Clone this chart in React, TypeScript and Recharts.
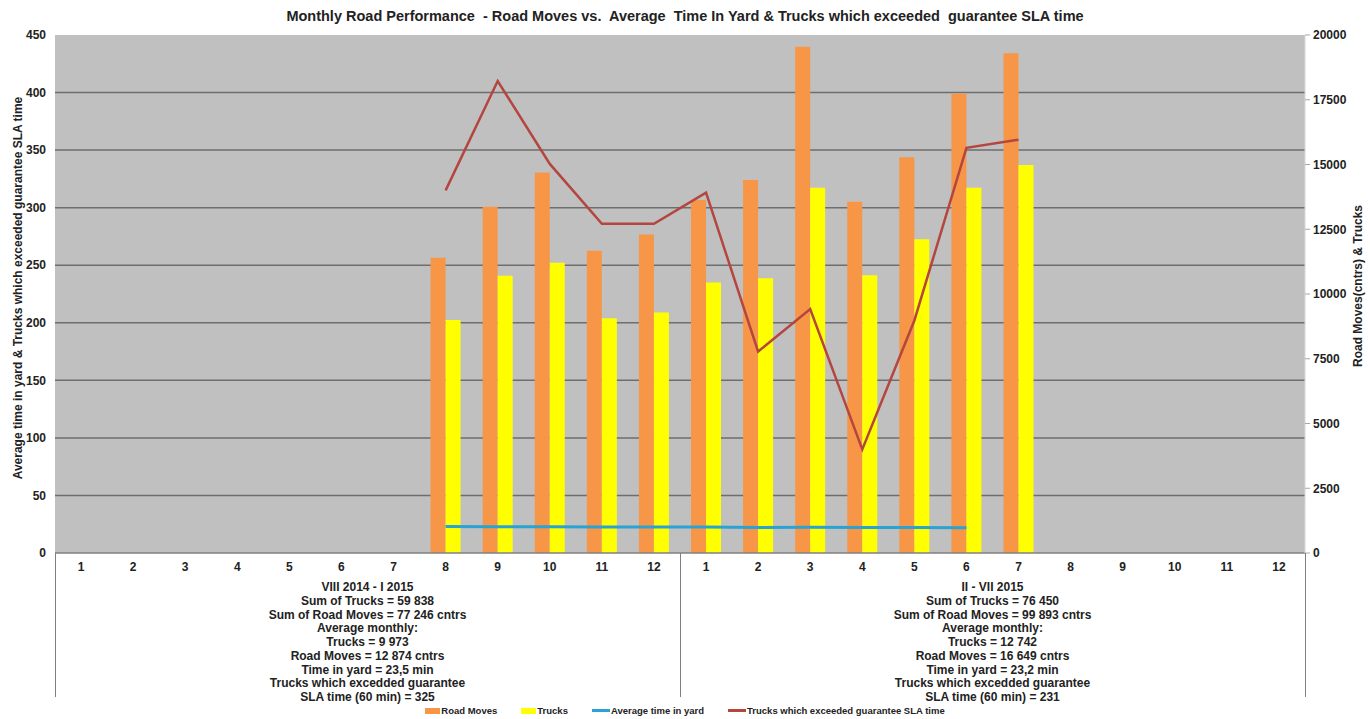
import {
  ComposedChart,
  Bar,
  Line,
  XAxis,
  YAxis,
  CartesianGrid,
} from "recharts";

// months shown on the category axis (two years, 1..12 twice)
const monthLabels = [
  "1", "2", "3", "4", "5", "6", "7", "8", "9", "10", "11", "12",
  "1", "2", "3", "4", "5", "6", "7", "8", "9", "10", "11", "12",
];

// series values, one per slot; null = no data for that month
const roadMoves = [
  null, null, null, null, null, null, null, 11400, 13370, 14690, 11670, 12300,
  13630, 14400, 19550, 13560, 15280, 17730, 19300, null, null, null, null, null,
];
const trucks = [
  null, null, null, null, null, null, null, 9000, 10700, 11210, 9060, 9290,
  10440, 10610, 14100, 10720, 12110, 14100, 14980, null, null, null, null, null,
];
const avgTimeInYard = [
  null, null, null, null, null, null, null, 23.0, 22.8, 22.7, 22.6, 22.6,
  22.5, 22.2, 22.3, 22.1, 22.2, 21.9, null, null, null, null, null, null,
];
const slaExceeded = [
  null, null, null, null, null, null, null, 315, 410, 338, 286, 286,
  313, 175, 212, 90, 202, 352, 359, null, null, null, null, null,
];

const leftTicks = [0, 50, 100, 150, 200, 250, 300, 350, 400, 450];
const rightTicks = [0, 2500, 5000, 7500, 10000, 12500, 15000, 17500, 20000];

const periodNotes = [
  [
    "VIII 2014 - I 2015",
    "Sum of Trucks = 59 838",
    "Sum of Road Moves = 77 246 cntrs",
    "Average monthly:",
    "Trucks = 9 973",
    "Road Moves = 12 874 cntrs",
    "Time in yard = 23,5 min",
    "Trucks which excedded guarantee",
    "SLA time (60 min) = 325",
  ],
  [
    "II - VII 2015",
    "Sum of Trucks = 76 450",
    "Sum of Road Moves = 99 893 cntrs",
    "Average monthly:",
    "Trucks = 12 742",
    "Road Moves = 16 649 cntrs",
    "Time in yard = 23,2 min",
    "Trucks which excedded guarantee",
    "SLA time (60 min) = 231",
  ],
];

const data = monthLabels.map((m, i) => ({
  slot: `${i < 12 ? "a" : "b"}${m}`,
  month: m,
  roadMoves: roadMoves[i],
  trucks: trucks[i],
  avgTime: avgTimeInYard[i],
  sla: slaExceeded[i],
}));

const W = 1370;
const H = 719;
const PLOT_LEFT = 55;
const PLOT_RIGHT = 1305;
const PLOT_TOP = 35;
const PLOT_BOTTOM = 553;
const FONT = "'Liberation Sans', Arial, sans-serif";

const ORANGE = "#F79646";
const YELLOW = "#FFFF00";
const BLUE = "#2AA3D3";
const RED = "#B4453F";

const tickStyle = { fill: "#222", fontSize: 12, fontWeight: 700, fontFamily: FONT };

const legendItems = [
  { label: "Road Moves", color: ORANGE, kind: "rect" },
  { label: "Trucks", color: YELLOW, kind: "rect" },
  { label: "Average time in yard", color: BLUE, kind: "line" },
  { label: "Trucks which exceeded guarantee SLA time", color: RED, kind: "line" },
];

export default function App() {
  const half = (PLOT_RIGHT - PLOT_LEFT) / 2;
  const vLines = [PLOT_LEFT, PLOT_LEFT + half, PLOT_RIGHT];

  return (
    <div
      style={{
        position: "absolute",
        left: 0,
        top: 0,
        width: W,
        height: H,
        background: "#fff",
        fontFamily: FONT,
        fontWeight: 700,
        color: "#222",
      }}
    >
      <div
        style={{
          position: "absolute",
          top: 8,
          left: 0,
          width: W,
          textAlign: "center",
          fontSize: 14.5,
          whiteSpace: "pre",
        }}
      >
        {"Monthly Road Performance  - Road Moves vs.  Average  Time In Yard & Trucks which exceeded  guarantee SLA time"}
      </div>

      <ComposedChart
        width={W}
        height={H}
        data={data}
        margin={{ top: PLOT_TOP, right: 0, left: 0, bottom: H - PLOT_BOTTOM - 30 }}
        barSize={15}
        barGap={0}
        style={{ position: "absolute", left: 0, top: 0 }}
      >
        <CartesianGrid
          yAxisId="left"
          vertical={false}
          fill="#C0C0C0"
          stroke="#6E6E6E"
          strokeWidth={1.5}
          horizontalValues={[50, 100, 150, 200, 250, 300, 350, 400]}
        />
        <XAxis
          dataKey="slot"
          height={30}
          tickFormatter={(v: string) => v.slice(1)}
          interval={0}
          axisLine={{ stroke: "#808080", strokeWidth: 1.5 }}
          tickLine={false}
          tick={tickStyle}
          tickMargin={3}
        />
        <YAxis
          yAxisId="left"
          orientation="left"
          width={PLOT_LEFT}
          domain={[0, 450]}
          ticks={leftTicks}
          axisLine={false}
          tickLine={false}
          tickSize={0}
          tickMargin={9}
          tick={tickStyle}
          label={{
            value: "Average time in yard & Trucks which exceeded guarantee SLA time",
            angle: -90,
            position: "center",
            dx: -10,
            dy: -6,
            fill: "#222",
            fontSize: 12,
            fontWeight: 700,
            fontFamily: FONT,
          }}
        />
        <YAxis
          yAxisId="right"
          orientation="right"
          width={W - PLOT_RIGHT}
          domain={[0, 20000]}
          ticks={rightTicks}
          axisLine={{ stroke: "#D8D8D8" }}
          tickLine={{ stroke: "#A8A8A8" }}
          tickSize={5}
          tickMargin={3}
          tick={tickStyle}
          label={{
            value: "Road Moves(cntrs) & Trucks",
            angle: -90,
            position: "center",
            dx: 20,
            dy: -8,
            fill: "#222",
            fontSize: 12,
            fontWeight: 700,
            fontFamily: FONT,
          }}
        />
        <Bar
          yAxisId="right"
          dataKey="roadMoves"
          name="Road Moves"
          fill={ORANGE}
          isAnimationActive={false}
        />
        <Bar
          yAxisId="right"
          dataKey="trucks"
          name="Trucks"
          fill={YELLOW}
          isAnimationActive={false}
        />
        <Line
          yAxisId="left"
          type="linear"
          dataKey="avgTime"
          name="Average time in yard"
          stroke={BLUE}
          strokeWidth={3}
          dot={false}
          isAnimationActive={false}
        />
        <Line
          yAxisId="left"
          type="linear"
          dataKey="sla"
          name="Trucks which exceeded guarantee SLA time"
          stroke={RED}
          strokeWidth={2.5}
          dot={false}
          isAnimationActive={false}
        />
      </ComposedChart>

      {vLines.map((x, i) => (
        <div
          key={i}
          style={{
            position: "absolute",
            left: x - 0.5,
            top: PLOT_BOTTOM,
            width: 1,
            height: 697 - PLOT_BOTTOM,
            background: "#808080",
          }}
        />
      ))}

      {periodNotes.map((lines, i) => (
        <div
          key={i}
          style={{
            position: "absolute",
            left: PLOT_LEFT + i * half,
            top: 581,
            width: half,
            textAlign: "center",
            fontSize: 12,
            lineHeight: "13.75px",
          }}
        >
          {lines.map((t, j) => (
            <div key={j}>{t}</div>
          ))}
        </div>
      ))}

      <div
        style={{
          position: "absolute",
          top: 705,
          left: 0,
          width: W,
          display: "flex",
          justifyContent: "center",
          gap: 24,
          fontSize: 9.5,
        }}
      >
        {legendItems.map((it) => (
          <div key={it.label} style={{ display: "flex", alignItems: "center" }}>
            <span
              style={{
                display: "inline-block",
                width: it.kind === "rect" ? 15 : 18,
                height: it.kind === "rect" ? 6 : 3,
                background: it.color,
                marginRight: 1,
              }}
            />
            {it.label}
          </div>
        ))}
      </div>
    </div>
  );
}
